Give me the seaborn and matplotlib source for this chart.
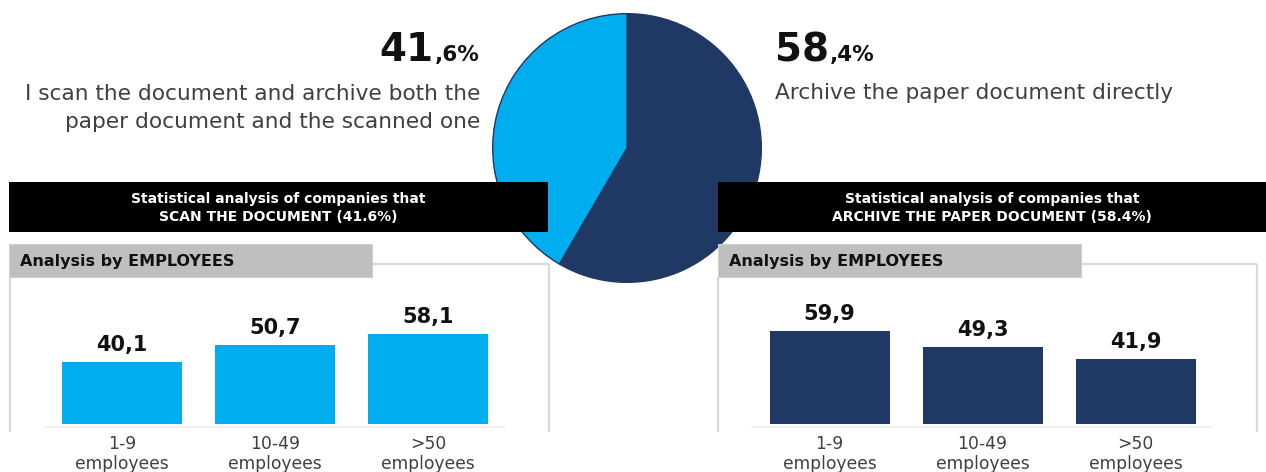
import matplotlib
matplotlib.use("Agg")
import matplotlib.pyplot as plt
from matplotlib.patches import Rectangle
import seaborn as sns

# ---- data -------------------------------------------------------------
share_labels = ["Archive the paper document directly",
                "I scan the document and archive both the\npaper document and the scanned one"]
share_values = [58.4, 41.6]

size_classes = ["1-9\nemployees", "10-49\nemployees", ">50\nemployees"]
scan_values = [40.1, 50.7, 58.1]
archive_values = [59.9, 49.3, 41.9]

scan_title = "Statistical analysis of companies that\nSCAN THE DOCUMENT (41.6%)"
archive_title = "Statistical analysis of companies that\nARCHIVE THE PAPER DOCUMENT (58.4%)"
panel_title = "Analysis by EMPLOYEES"

# ---- style ------------------------------------------------------------
LIGHT = "#00AEEF"
DARK = "#203864"
GREY_TXT = "#404040"
HEADER_GREY = "#BFBFBF"
BORDER = "#D9D9D9"

sns.set_theme(style="white")
plt.rcParams["font.family"] = ["DejaVu Sans"]

W, H = 1266, 472
fig = plt.figure(figsize=(W / 100, H / 100), dpi=100)
fig.patch.set_facecolor("white")


def frac(x0, y0, x1, y1):
    """Pixel box (top-left origin) -> figure fraction rect."""
    return [x0 / W, 1 - y1 / H, (x1 - x0) / W, (y1 - y0) / H]


# background layer in pixel coordinates
bg = fig.add_axes([0, 0, 1, 1], zorder=0)
bg.set_xlim(0, W)
bg.set_ylim(H, 0)
bg.axis("off")

# panel frames
for (x0, hx1, x1) in [(10, 372, 549), (718, 1081, 1257)]:
    bg.plot([hx1, x1], [264, 264], color=BORDER, lw=1.6, solid_capstyle="butt")
    bg.plot([x1, x1], [264, 432], color=BORDER, lw=1.6, solid_capstyle="butt")
    bg.plot([x0, x0], [277, 432], color=BORDER, lw=1.6, solid_capstyle="butt")
# faint baselines under the bars
bg.plot([45, 505], [427, 427], color="#EDEDED", lw=1.2)
bg.plot([752, 1212], [427, 427], color="#EDEDED", lw=1.2)

# ---- bar panels -------------------------------------------------------
PX_PER_UNIT = 1.555
SPACING = 153.0
BAR_W = 120 / SPACING


def bar_panel(values, color, first_center, x0, x1):
    top = 290
    ax = fig.add_axes(frac(x0, top, x1, 424), zorder=1)
    ax.set_facecolor("none")
    sns.barplot(x=size_classes, y=values, color=color, width=BAR_W,
                saturation=1, linewidth=0, ax=ax)
    ax.set_xlim((x0 - first_center) / SPACING, (x1 - first_center) / SPACING)
    ax.set_ylim(0, (424 - top) / PX_PER_UNIT)
    ax.bar_label(ax.containers[0],
                 labels=[f"{v:.1f}".replace(".", ",") for v in values],
                 padding=5, fontsize=15, fontweight="bold", color="#111111")
    ax.set_yticks([])
    ax.set_ylabel("")
    ax.set_xlabel("")
    ax.tick_params(axis="x", length=0, pad=8, labelsize=12.3,
                   labelcolor=GREY_TXT)
    for lab in ax.get_xticklabels():
        lab.set_linespacing(1.12)
    for s in ax.spines.values():
        s.set_visible(False)
    return ax


bar_panel(scan_values, LIGHT, 122, 10, 546)
bar_panel(archive_values, DARK, 829.5, 718, 1255)

# ---- pie --------------------------------------------------------------
pie_ax = fig.add_axes(frac(492, 13, 762, 283), zorder=2)
pie_ax.pie(share_values, colors=[DARK, LIGHT], startangle=90,
           counterclock=False, radius=1,
           wedgeprops=dict(edgecolor=DARK, linewidth=1))
pie_ax.set_xlim(-1.005, 1.005)
pie_ax.set_ylim(-1.005, 1.005)
pie_ax.set_aspect("equal")
pie_ax.axis("off")

# ---- overlay: header boxes and texts ---------------------------------
ov = fig.add_axes([0, 0, 1, 1], zorder=3)
ov.set_xlim(0, W)
ov.set_ylim(H, 0)
ov.axis("off")

for (x0, x1, title) in [(9, 548, scan_title), (718, 1266, archive_title)]:
    ov.add_patch(Rectangle((x0, 182), x1 - x0, 50, facecolor="black",
                           edgecolor="none"))
    ov.text((x0 + x1) / 2, 208, title, ha="center", va="center",
            color="white", fontsize=10, fontweight="bold", linespacing=1.3)

for (x0, x1) in [(9, 372), (718, 1081)]:
    ov.add_patch(Rectangle((x0, 244), x1 - x0, 33, facecolor=HEADER_GREY,
                           edgecolor="#D0D0D0", lw=0.8))
    ov.text(x0 + 11, 261.5, panel_title, ha="left", va="center",
            color="#111111", fontsize=11.5, fontweight="bold")

renderer = fig.canvas.get_renderer()

# left share figure: "41" + ",6%"
left_int, left_dec = f"{share_values[1]:.1f}".split(".")
t_dec = ov.text(480, 61, f",{left_dec}%", ha="right", va="baseline",
                fontsize=15.5, fontweight="bold", color="#111111")
dec_w = t_dec.get_window_extent(renderer).width
ov.text(480 - dec_w - 2, 61, left_int, ha="right", va="baseline",
        fontsize=28, fontweight="bold", color="#111111")
ov.text(480, 108, share_labels[1], ha="right", va="center",
        fontsize=15.6, color=GREY_TXT, linespacing=1.45)

# right share figure: "58" + ",4%"
right_int, right_dec = f"{share_values[0]:.1f}".split(".")
t_int = ov.text(775, 61, right_int, ha="left", va="baseline",
                fontsize=28, fontweight="bold", color="#111111")
int_w = t_int.get_window_extent(renderer).width
ov.text(775 + int_w + 1, 61, f",{right_dec}%", ha="left", va="baseline",
        fontsize=15.5, fontweight="bold", color="#111111")
ov.text(775, 93, share_labels[0], ha="left", va="center",
        fontsize=15.6, color=GREY_TXT)

fig.savefig("out.png", dpi=100)
